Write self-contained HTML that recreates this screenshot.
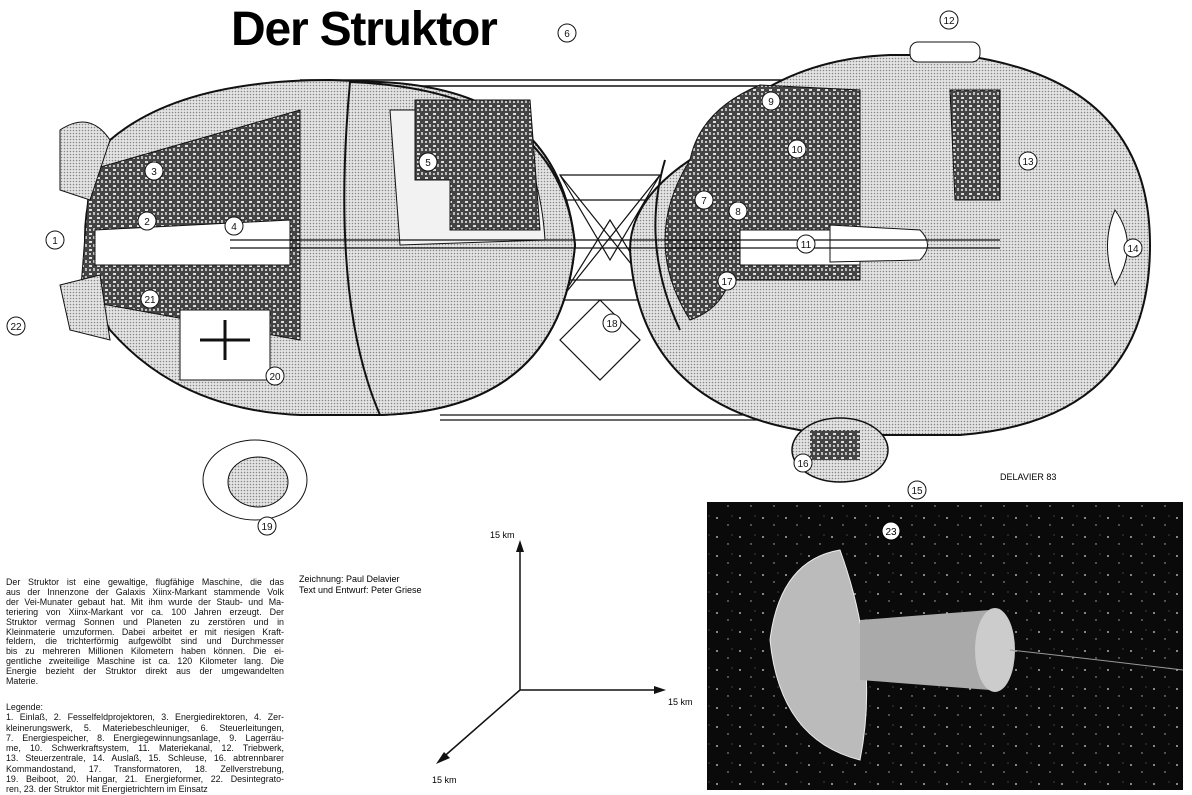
<!DOCTYPE html>
<html><head><meta charset="utf-8"><style>
body{margin:0;background:#fff;width:1192px;height:792px;overflow:hidden;position:relative;font-family:"Liberation Sans",sans-serif}
.t{position:absolute;font-size:8.9px;line-height:9.9px;color:#111;width:278px}
.t div{text-align:justify;text-align-last:justify;white-space:nowrap}
.t div.l{text-align-last:left}
</style></head><body>
<svg width="1192" height="792" style="position:absolute;left:0;top:0">
<defs>
<pattern id="dots" width="3" height="3" patternUnits="userSpaceOnUse"><rect width="3" height="3" fill="#e4e4e4"/><circle cx="1.5" cy="1.5" r="0.8" fill="#888"/></pattern>
<pattern id="mach" width="8" height="8" patternUnits="userSpaceOnUse"><rect width="8" height="8" fill="#444"/><rect x="1" y="1" width="3" height="2" fill="#ddd"/><rect x="5" y="4" width="2" height="3" fill="#bbb"/><circle cx="2" cy="6" r="1" fill="#eee"/></pattern>
<pattern id="stars" width="23" height="19" patternUnits="userSpaceOnUse"><rect width="23" height="19" fill="#0a0a0a"/><circle cx="4" cy="5" r="0.9" fill="#ddd"/><circle cx="15" cy="12" r="0.7" fill="#bbb"/><circle cx="19" cy="3" r="0.5" fill="#999"/></pattern>
</defs>
<text x="231" y="45" font-size="48" font-weight="bold" font-family="Liberation Sans" letter-spacing="-1.2">Der Struktor</text>
<path d="M300 80 L960 80 M300 86 L960 86" stroke="#111" stroke-width="1.5"/>
<g stroke="#111" stroke-width="1.2" fill="none">
<path d="M560 175 L660 175 L610 260 Z M560 300 L660 300 L610 220 Z M530 200 L690 200 M530 280 L690 280 M560 175 L660 300 M660 175 L560 300"/>
<path d="M440 415 L800 415 M440 420 L800 420 M600 300 L640 340 L600 380 L560 340 Z"/>
</g>
<path d="M110 140 Q180 80 330 80 L380 82 Q560 90 575 245 Q560 410 380 415 L300 415 Q180 410 110 330 Q60 240 110 140 Z" fill="url(#dots)" stroke="#111" stroke-width="2"/>
<path d="M350 82 Q560 90 575 245 Q560 410 380 415 Q330 300 350 82 Z" fill="url(#dots)" stroke="#111" stroke-width="2"/>
<path d="M390 110 L500 110 Q540 160 545 240 L400 245 Z" fill="#f2f2f2" stroke="#111"/>
<path d="M415 100 L530 100 L540 230 L450 230 L450 180 L415 180 Z" fill="url(#mach)" stroke="#111"/>
<path d="M90 170 L300 110 L300 340 L80 300 Z" fill="url(#mach)" stroke="#111"/>
<path d="M95 230 L290 220 L290 265 L95 265 Z" fill="#fff" stroke="#111"/>
<path d="M60 130 Q90 110 110 140 L90 200 L60 190 Z M60 285 L100 275 L110 340 L70 330 Z" fill="url(#dots)" stroke="#111"/>
<path d="M180 310 L270 310 L270 380 L180 380 Z" fill="#fff" stroke="#111"/>
<path d="M200 340 L250 340 M225 320 L225 360" stroke="#111" stroke-width="3"/>
<path d="M690 160 Q760 60 890 55 L960 55 Q1150 80 1150 245 Q1150 420 960 435 L840 435 Q640 420 630 250 Q630 200 690 160 Z" fill="url(#dots)" stroke="#111" stroke-width="2"/>
<path d="M690 160 Q640 240 690 320 Q720 310 730 280 L860 280 L860 90 L760 85 Q700 110 690 160 Z" fill="url(#mach)" stroke="#111"/>
<path d="M665 160 Q640 245 680 330" stroke="#111" fill="none" stroke-width="2"/>
<path d="M740 230 L860 230 L860 265 L740 265 Z" fill="#fff" stroke="#111"/>
<path d="M830 225 L920 230 Q935 245 920 260 L830 262 Z" fill="#fff" stroke="#111"/>
<path d="M950 90 L1000 90 L1000 200 L955 200 Z" fill="url(#mach)" stroke="#111"/>
<path d="M1115 210 Q1140 245 1115 285 Q1100 245 1115 210 Z" fill="#fff" stroke="#111"/>
<rect x="910" y="42" width="70" height="20" rx="8" fill="#fff" stroke="#111"/>
<path d="M230 240 L1000 240 M230 248 L1000 248" stroke="#111" stroke-width="1.2"/>
<ellipse cx="840" cy="450" rx="48" ry="32" fill="url(#dots)" stroke="#111" stroke-width="1.5"/>
<rect x="810" y="430" width="50" height="30" fill="url(#mach)"/>
<ellipse cx="255" cy="480" rx="52" ry="40" fill="#fff" stroke="#111"/>
<ellipse cx="258" cy="482" rx="30" ry="25" fill="url(#dots)" stroke="#111"/>
<g font-size="10" font-family="Liberation Sans" text-anchor="middle" fill="#111" stroke="none">
<g fill="#fff" stroke="#111"><circle cx="567" cy="33" r="9"/><circle cx="949" cy="20" r="9"/><circle cx="771" cy="101" r="9"/><circle cx="154" cy="171" r="9"/><circle cx="428" cy="162" r="9"/><circle cx="797" cy="149" r="9"/><circle cx="1028" cy="161" r="9"/><circle cx="147" cy="221" r="9"/><circle cx="234" cy="226" r="9"/><circle cx="704" cy="200" r="9"/><circle cx="738" cy="211" r="9"/><circle cx="55" cy="240" r="9"/><circle cx="806" cy="244" r="9"/><circle cx="1133" cy="248" r="9"/><circle cx="727" cy="281" r="9"/><circle cx="150" cy="299" r="9"/><circle cx="16" cy="326" r="9"/><circle cx="612" cy="323" r="9"/><circle cx="275" cy="376" r="9"/><circle cx="803" cy="463" r="9"/><circle cx="917" cy="490" r="9"/><circle cx="267" cy="526" r="9"/></g>
<text x="567" y="37">6</text><text x="949" y="24">12</text><text x="771" y="105">9</text><text x="154" y="175">3</text><text x="428" y="166">5</text><text x="797" y="153">10</text><text x="1028" y="165">13</text><text x="147" y="225">2</text><text x="234" y="230">4</text><text x="704" y="204">7</text><text x="738" y="215">8</text><text x="55" y="244">1</text><text x="806" y="248">11</text><text x="1133" y="252">14</text><text x="727" y="285">17</text><text x="150" y="303">21</text><text x="16" y="330">22</text><text x="612" y="327">18</text><text x="275" y="380">20</text><text x="803" y="467">16</text><text x="917" y="494">15</text><text x="267" y="530">19</text>
</g>
<text x="1000" y="480" font-size="9" font-family="Liberation Sans">DELAVIER 83</text>
<g stroke="#111" stroke-width="1.5" fill="#111">
<path d="M520 690 L520 545 M520 690 L660 690 M520 690 L440 760"/>
<path d="M520 540 L516 552 L524 552 Z M666 690 L654 686 L654 694 Z M436 764 L444 752 L450 758 Z" stroke="none"/>
</g>
<g font-size="9" font-family="Liberation Sans"><text x="490" y="538">15 km</text><text x="668" y="705">15 km</text><text x="432" y="783">15 km</text>
<text x="299" y="582">Zeichnung: Paul Delavier</text><text x="299" y="593">Text und Entwurf: Peter Griese</text></g>
<rect x="707" y="502" width="476" height="288" fill="url(#stars)"/>
<path d="M840 550 Q780 560 770 640 Q780 740 860 760 Q880 660 840 550 Z" fill="#bbb" stroke="#eee"/>
<path d="M860 620 L990 610 L990 690 L860 680 Z" fill="#aaa"/>
<ellipse cx="995" cy="650" rx="20" ry="42" fill="#ccc"/>
<path d="M1010 650 Q1100 660 1183 670" stroke="#999" fill="none"/>
<circle cx="891" cy="531" r="9" fill="#fff" stroke="#000"/><text x="891" y="535" font-size="10" text-anchor="middle" font-family="Liberation Sans">23</text>
</svg>
<div class="t" style="left:6px;top:578px">
<div>Der Struktor ist eine gewaltige, flugfähige Maschine, die das</div>
<div>aus der Innenzone der Galaxis Xiinx-Markant stammende Volk</div>
<div>der Vei-Munater gebaut hat. Mit ihm wurde der Staub- und Ma-</div>
<div>teriering von Xiinx-Markant vor ca. 100 Jahren erzeugt. Der</div>
<div>Struktor vermag Sonnen und Planeten zu zerstören und in</div>
<div>Kleinmaterie umzuformen. Dabei arbeitet er mit riesigen Kraft-</div>
<div>feldern, die trichterförmig aufgewölbt sind und Durchmesser</div>
<div>bis zu mehreren Millionen Kilometern haben können. Die ei-</div>
<div>gentliche zweiteilige Maschine ist ca. 120 Kilometer lang. Die</div>
<div>Energie bezieht der Struktor direkt aus der umgewandelten</div>
<div class="l">Materie.</div>
</div>
<div class="t" style="left:6px;top:702px;line-height:10.3px">
<div class="l">Legende:</div>
<div>1. Einlaß, 2. Fesselfeldprojektoren, 3. Energiedirektoren, 4. Zer-</div>
<div>kleinerungswerk, 5. Materiebeschleuniger, 6. Steuerleitungen,</div>
<div>7. Energiespeicher, 8. Energiegewinnungsanlage, 9. Lagerräu-</div>
<div>me, 10. Schwerkraftsystem, 11. Materiekanal, 12. Triebwerk,</div>
<div>13. Steuerzentrale, 14. Auslaß, 15. Schleuse, 16. abtrennbarer</div>
<div>Kommandostand, 17. Transformatoren, 18. Zellverstrebung,</div>
<div>19. Beiboot, 20. Hangar, 21. Energieformer, 22. Desintegrato-</div>
<div class="l">ren, 23. der Struktor mit Energietrichtern im Einsatz</div>
</div>
</body></html>
